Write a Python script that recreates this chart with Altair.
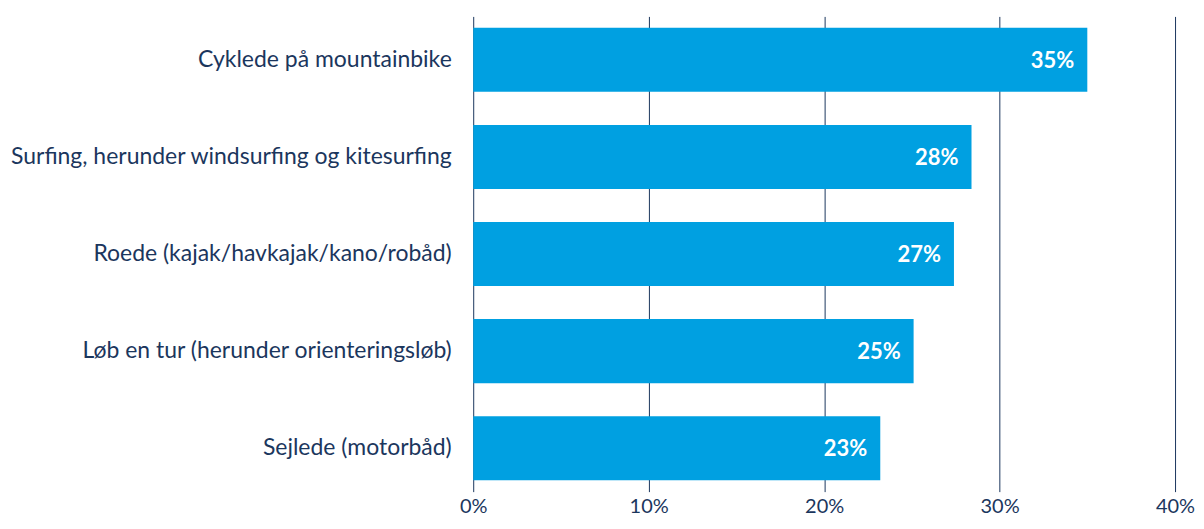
import altair as alt
import pandas as pd

categories = [
    "Cyklede på mountainbike",
    "Surfing, herunder windsurfing og kitesurfing",
    "Roede (kajak/havkajak/kano/robåd)",
    "Løb en tur (herunder orienteringsløb)",
    "Sejlede (motorbåd)",
]
values = [35.0, 28.4, 27.4, 25.1, 23.2]
labels = ["35%", "28%", "27%", "25%", "23%"]
ticks = [0, 10, 20, 30, 40]

df = pd.DataFrame({"cat": categories, "val": values, "lab": labels})

TEXT = "#1b365d"
BAR = "#00a0e1"
FONT = "Lato"

y = alt.Y("cat:N", sort=categories, title=None,
          scale=alt.Scale(paddingInner=0.34, paddingOuter=0.117),
          axis=alt.Axis(domain=False, ticks=False, labelFontSize=23, labelFont=FONT,
                        labelColor=TEXT, labelPadding=22, labelLimit=600))
x = alt.X("val:Q", title=None,
          scale=alt.Scale(domain=[0, 40], nice=False),
          axis=alt.Axis(values=ticks, format=".0f", labelExpr="datum.value + '%'",
                        domain=False, ticks=False, grid=True, gridColor=TEXT,
                        gridWidth=1, labelFontSize=20, labelFont=FONT,
                        labelColor=TEXT, labelPadding=5, labelFlush=False,
                        labelOverlap=False))

bars = alt.Chart(df).mark_bar(color=BAR).encode(x=x, y=y)
text = alt.Chart(df).mark_text(align="right", baseline="middle", dx=-13, dy=1,
                               color="white", font=FONT, fontSize=22,
                               fontWeight="bold").encode(
    x=alt.X("val:Q"), y=alt.Y("cat:N", sort=categories), text="lab:N")

chart = (bars + text).properties(
    width=703, height=476,
    autosize=alt.AutoSizeParams(type="none"),
    padding={"left": 466, "top": 8, "right": 21, "bottom": 29},
).configure_view(stroke=None)

chart.save("out.html", embed_options={"renderer": "svg", "actions": False})
